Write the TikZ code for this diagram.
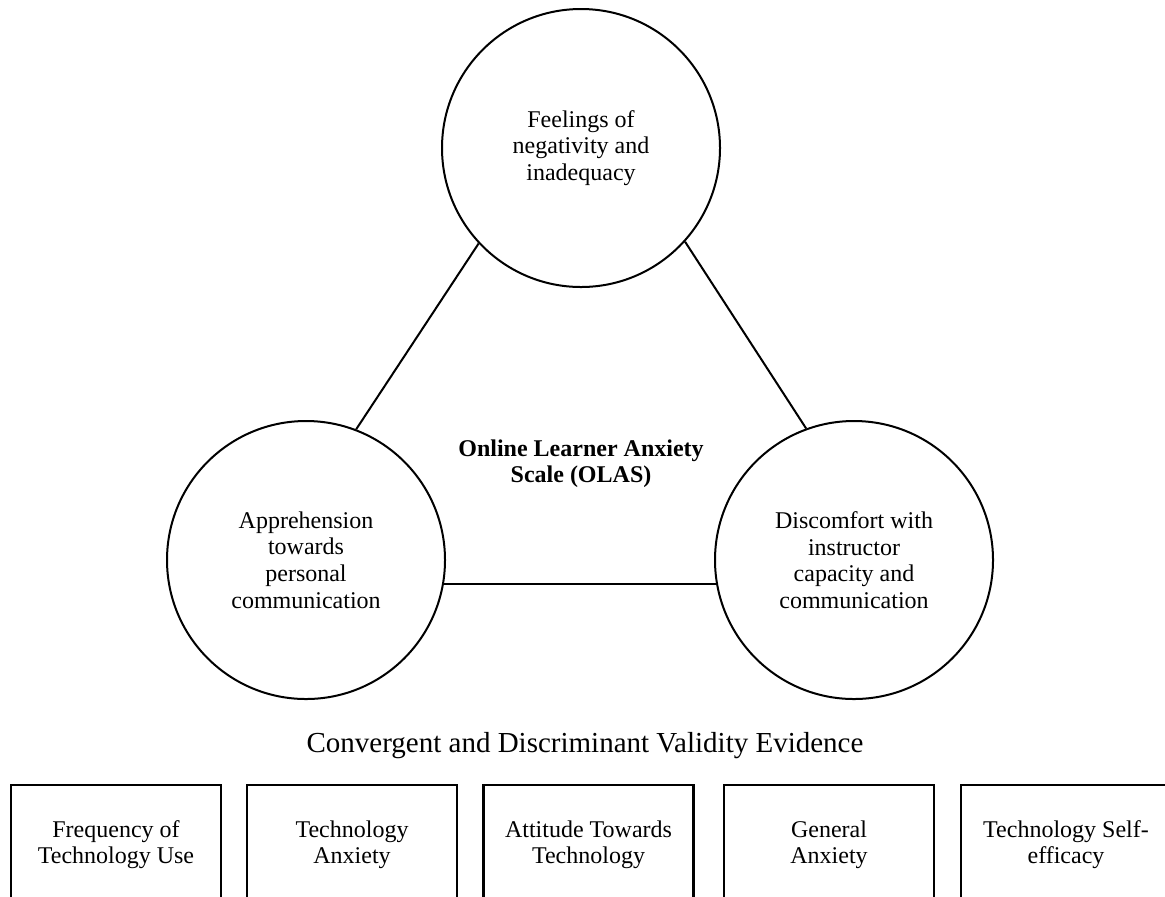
\documentclass[tikz,border=0pt]{standalone}
\usepackage{fontspec}
\setmainfont{Liberation Serif}
\begin{document}
\begin{tikzpicture}[x=0.5pt,y=-0.5pt,
  circ/.style={circle, draw, line width=1pt, minimum size=139pt, inner sep=0pt, align=center, font=\fontsize{12}{13.3}\selectfont},
  valbox/.style={rectangle, draw, line width=1.1pt, minimum width=105pt, minimum height=60pt, inner sep=0pt, anchor=north, align=center, font=\fontsize{12}{13}\selectfont},
  link/.style={line width=1pt},
  centertext/.style={align=center, font=\bfseries\fontsize{12}{13}\selectfont},
  titletext/.style={anchor=base, font=\fontsize{14.5}{16}\selectfont}]
\useasboundingbox (0,0) rectangle (1165,896);
\clip (0,0) rectangle (1165,896);
\node[circ] (top) at (581,148) {Feelings of\\negativity and\\inadequacy};
\node[circ] (left) at (306,560) {Apprehension\\towards\\personal\\communication};
\node[circ] (right) at (854,560) {Discomfort with\\instructor\\capacity and\\communication};
\node[centertext] (olas) at (581,464) {Online Learner Anxiety\\Scale (OLAS)};
\draw[link] (top.223) -- (left.69);
\draw[link] (top.318) -- (right.110);
\draw[link] (left.350) -- (right.190);
\node[titletext] (title) at (585,752) {Convergent and Discriminant Validity Evidence};
\node[valbox] (b1) at (116,784) {Frequency of\\Technology Use};
\node[valbox] (b2) at (352,784) {Technology\\Anxiety};
\node[valbox] (b3) at (588.5,784) {Attitude Towards\\Technology};
\node[valbox] (b4) at (829,784) {General\\Anxiety};
\node[valbox] (b5) at (1066,784) {Technology Self-\\efficacy};
\end{tikzpicture}
\end{document}
